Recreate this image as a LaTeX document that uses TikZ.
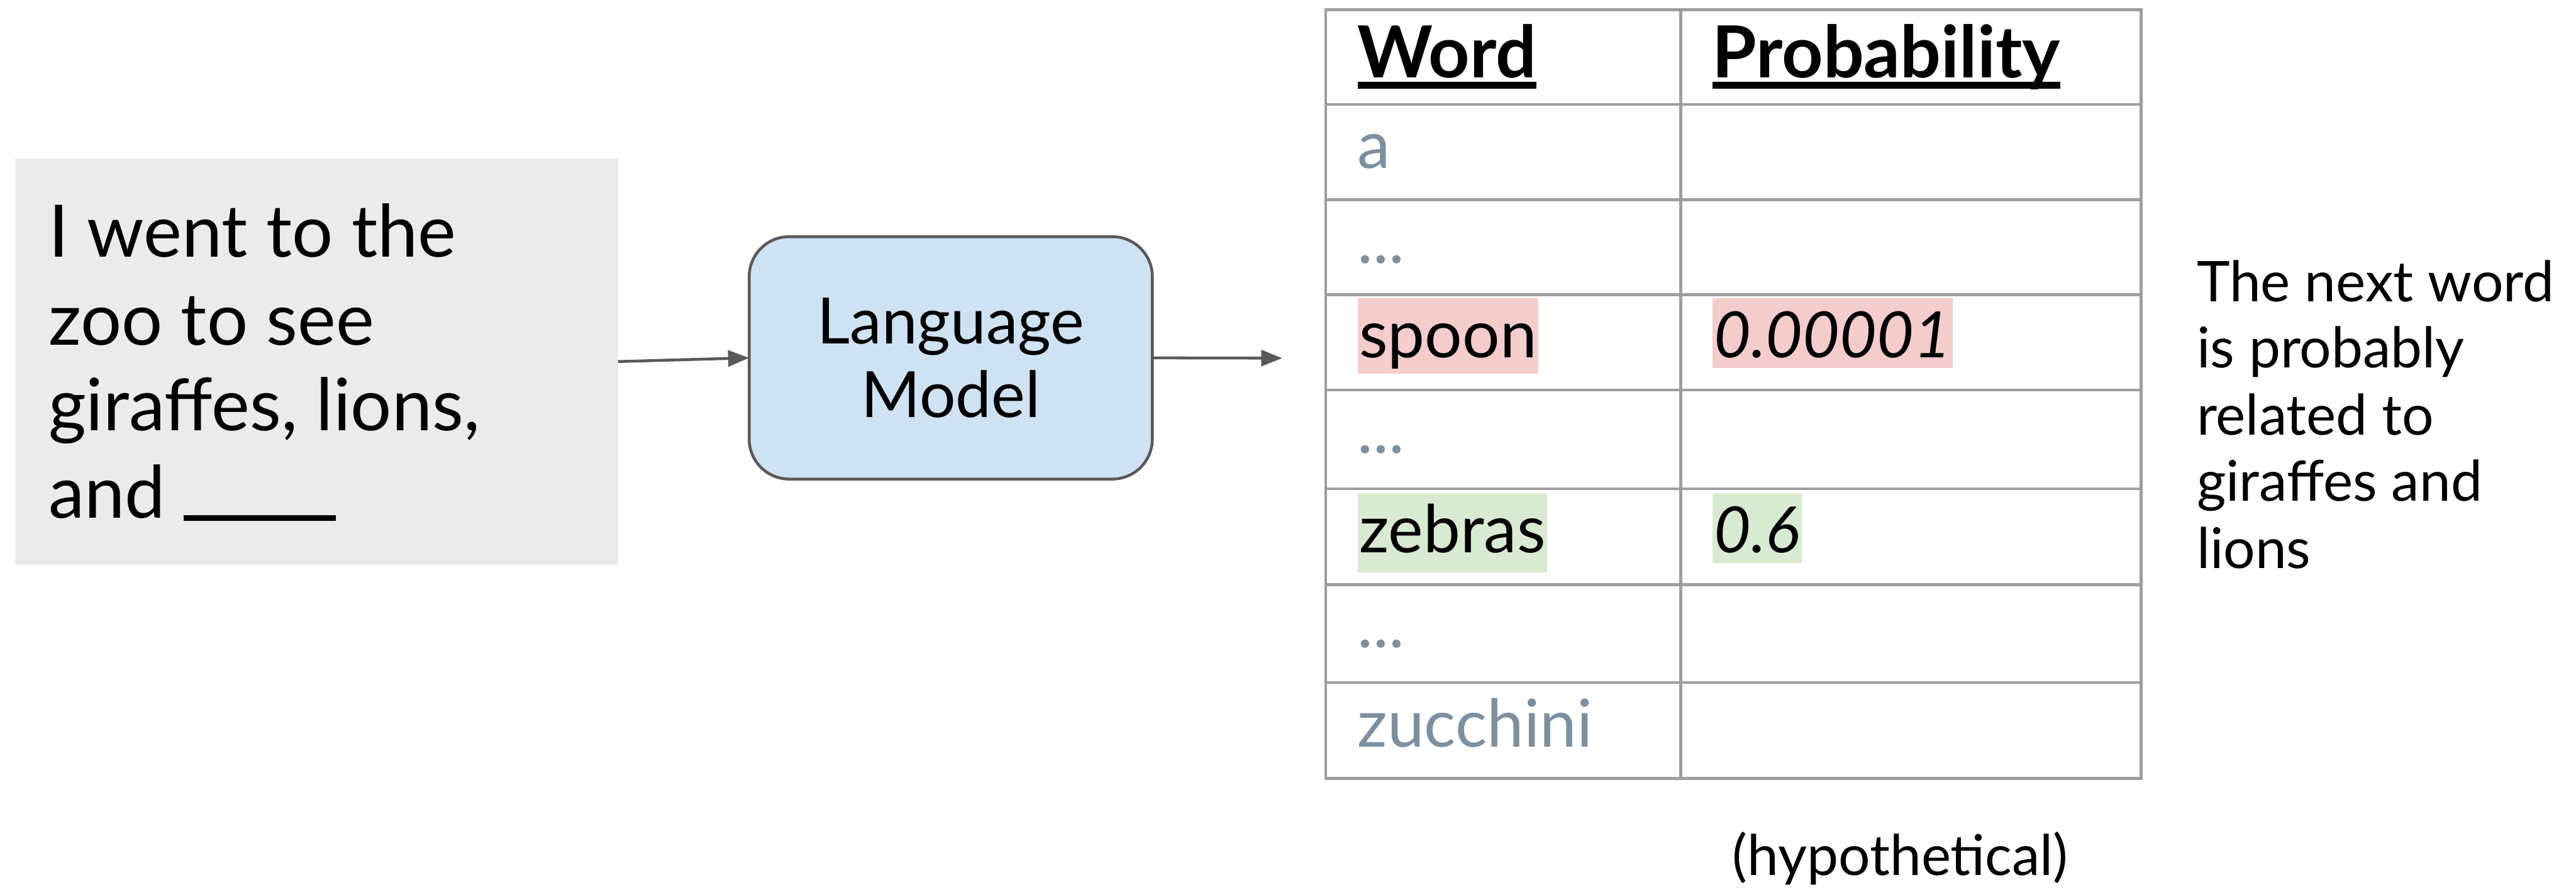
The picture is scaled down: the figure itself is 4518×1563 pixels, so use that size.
\documentclass[tikz,border=0pt]{standalone}
\usepackage{fontspec}
\setmainfont{Lato}
\usetikzlibrary{arrows.meta}
\definecolor{boxgray}{HTML}{EBEBEB}
\definecolor{lmblue}{HTML}{CFE2F3}
\definecolor{edgegray}{HTML}{595959}
\definecolor{gridgray}{HTML}{9E9E9E}
\definecolor{faded}{HTML}{7D909F}
\definecolor{hlred}{HTML}{F4CCCC}
\definecolor{hlgreen}{HTML}{D9EAD3}
\begin{document}
\begin{tikzpicture}[x=0.25pt,y=-0.25pt,
  every node/.style={inner sep=0pt, outer sep=0pt},
  inputline/.style={anchor=base west, font=\fontsize{31.75}{38}\selectfont},
  headtxt/.style={anchor=base west, font=\bfseries\fontsize{31.5}{38}\selectfont},
  celltxt/.style={anchor=base west, font=\fontsize{29}{35}\selectfont},
  fadedtxt/.style={celltxt, text=faded},
  hlword/.style={celltxt, inner xsep=0.75pt, text height=26pt, text depth=7pt},
  hlprob/.style={celltxt, font=\itshape\fontsize{28}{35}\selectfont, inner xsep=0.75pt, text height=26pt, text depth=4.5pt},
  noteline/.style={anchor=base west, font=\fontsize{24.6}{29}\selectfont},
  gridline/.style={draw=gridgray, line width=1.25pt},
  conn/.style={draw=edgegray, line width=1.25pt, -{Triangle[length=9.25pt,width=7pt]}},
  uline/.style={line width=3pt, draw=black}
]
\useasboundingbox (0,0) rectangle (4518,1563);

% input box
\node[fill=boxgray, minimum width=264.5pt, minimum height=178pt] (inp) at (555,634) {};
\node[inputline] (in1) at (85,451) {I went to the};
\node[inputline] (in2) at (85,605) {zoo to see};
\node[inputline] (in3) at (85,755) {giraffes, lions,};
\node[inputline] (in4) at (85,908) {and \rule[-1.25pt]{66.5pt}{2.5pt}};

% language model
\node[draw=edgegray, line width=1.25pt, fill=lmblue, rounded corners=17.5pt,
      minimum width=176.75pt, minimum height=106.25pt, align=center,
      font=\fontsize{28}{32.25}\selectfont] (lm) at (1667.5,627.5) {Language\\Model};

% connectors
\coordinate (out) at (2249,628);
\draw[conn] (inp.east) -- (lm.west);
\draw[conn] (lm.east) -- (out);

% highlights + texts in table
\node[hlword, fill=hlred] (spoon) at (2381,627) {spoon};
\node[hlprob, fill=hlred] (pspoon) at (3003,627) {0.00001};
\node[hlword, fill=hlgreen, text depth=8.75pt] (zebras) at (2381,969) {zebras};
\node[hlprob, fill=hlgreen] (pzebras) at (3003,969) {0.6};

% table grid
\draw[gridline] (2325,17) rectangle (3755,1365);
\foreach \yy in {183,350,517,684,857,1025,1197}
  \draw[gridline] (2325,\yy) -- (3755,\yy);
\draw[gridline] (2948,17) -- (2948,1365);

% headers
\node[headtxt] (hword) at (2381,136) {Word};
\node[headtxt] (hprob) at (3003,136) {Probability};
\draw[uline] ([yshift=-3.25pt]hword.base west) -- ([yshift=-3.25pt]hword.base east);
\draw[uline] ([yshift=-3.25pt]hprob.base west) -- ([yshift=-3.25pt]hprob.base east);

\node[fadedtxt] (wa) at (2381,295) {a};
\node[fadedtxt] (d1) at (2381,462) {...};
\node[fadedtxt] (d2) at (2381,795) {...};
\node[fadedtxt] (d3) at (2381,1136) {...};
\node[fadedtxt] (wz) at (2381,1310) {zucchini};

% note
\node[noteline] (n1) at (3853,529) {The next word};
\node[noteline] (n2) at (3853,645) {is probably};
\node[noteline] (n3) at (3853,763) {related to};
\node[noteline] (n4) at (3853,879) {giraffes and};
\node[noteline] (n5) at (3853,997) {lions};

\node[noteline, anchor=base] (hyp) at (3333,1535) {(hypothetical)};
\end{tikzpicture}
\end{document}
